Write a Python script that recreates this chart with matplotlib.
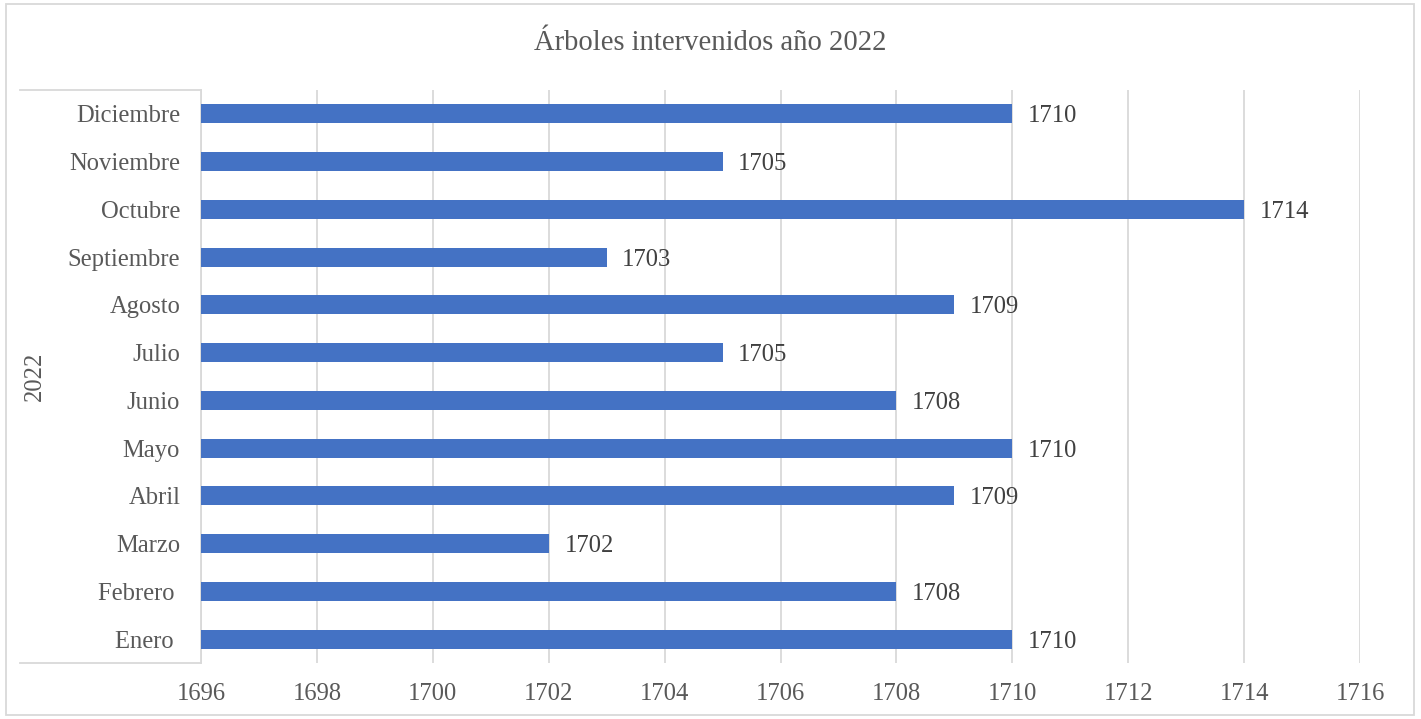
import matplotlib.pyplot as plt
from matplotlib.lines import Line2D
from matplotlib.patches import Rectangle

meses = ["Enero ", "Febrero ", "Marzo", "Abril", "Mayo", "Junio", "Julio",
         "Agosto", "Septiembre", "Octubre", "Noviembre", "Diciembre"]
arboles = [1710, 1708, 1702, 1709, 1710, 1708, 1705, 1709, 1703, 1714, 1705, 1710]
xticks = list(range(1696, 1717, 2))

plt.rcParams['font.family'] = ['Liberation Serif', 'DejaVu Serif']
gris = '#595959'
linea = '#d9d9d9'

fig = plt.figure(figsize=(14.21, 7.19), dpi=100)
ax = fig.add_axes([201/1421, 1-663/719, (1360-201)/1421, (663-90)/719])

pos = list(range(len(meses)))
ax.barh(pos, [v - 1696 for v in arboles], left=1696, height=0.4, color='#4472c4', zorder=3)
for p, v in zip(pos, arboles):
    ax.text(v + 0.27, p, str(v), va='center_baseline', ha='left', fontsize=17.7, color='#404040')

ax.set_xlim(1696, 1716)
ax.set_ylim(-0.5, len(meses) - 0.5)
ax.set_xticks(xticks)
ax.set_xticklabels([str(t) for t in xticks], fontsize=17.7, color=gris)
ax.set_yticks(pos)
ax.set_yticklabels(meses, fontsize=17.7, color=gris)
ax.tick_params(axis='x', length=0, pad=14.5)
ax.tick_params(axis='y', length=0, pad=15)
ax.grid(axis='x', color=linea, linewidth=1.3, zorder=0)
for s in ['top', 'right', 'bottom']:
    ax.spines[s].set_visible(False)
ax.spines['left'].set_color(linea)
ax.spines['left'].set_linewidth(1.3)

# bracket of the two-level category axis
y_top = 1 - 90/719
y_bot = 1 - 663/719
x0, x1 = 20/1421, 201/1421
fig.add_artist(Line2D([x0, x1], [y_top, y_top], color=linea, linewidth=1.3))
fig.add_artist(Line2D([x0, x1], [y_bot, y_bot], color=linea, linewidth=1.3))
fig.text(35/1421, 1 - 376/719, "2022", rotation=90, ha='center', va='center',
         fontsize=17.7, color=gris)

fig.text(0.5, 1 - 43/719, "Árboles intervenidos año 2022", ha='center', va='center',
         fontsize=20.6, color=gris)

fig.add_artist(Rectangle((6/1421, 4/719), 1408/1421, 711/719, transform=fig.transFigure,
                         fill=False, edgecolor=linea, linewidth=1.3))

fig.savefig('out.png', dpi=100)
